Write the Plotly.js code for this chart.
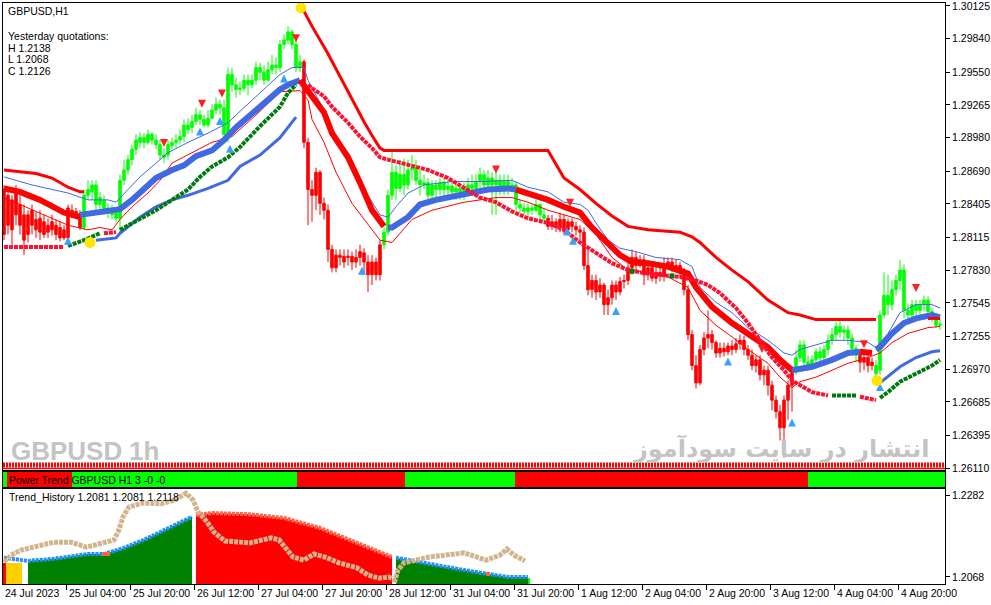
<!DOCTYPE html>
<html><head><meta charset="utf-8">
<script src="https://cdn.plot.ly/plotly-3.0.1.min.js"></script>
<style>html,body{margin:0;padding:0;background:#fff}#c{width:991px;height:605px}</style>
</head><body><div id="c"></div>
<script>
// ---------- candles (H1 bars, index 0..234) ----------
const O=[1.2853,1.2848,1.2844,1.2853,1.2840,1.2831,1.2831,1.2835,1.2827,1.2828,
1.2825,1.2822,1.2825,1.2822,1.2820,1.2818,1.2811,1.2835,1.2834,1.2832,
1.2820,1.2848,1.2851,1.2857,1.2840,1.2844,1.2837,1.2835,1.2833,1.2828,
1.2861,1.2870,1.2879,1.2888,1.2894,1.2898,1.2894,1.2901,1.2896,1.2892,
1.2883,1.2883,1.2891,1.2894,1.2896,1.2899,1.2909,1.2907,1.2912,1.2918,
1.2914,1.2909,1.2915,1.2922,1.2927,1.2924,1.2898,1.2953,1.2944,1.2940,
1.2941,1.2948,1.2944,1.2948,1.2959,1.2955,1.2948,1.2957,1.2961,1.2959,
1.2979,1.2983,1.2990,1.2979,1.2959,1.2964,1.2894,1.2853,1.2848,1.2868,
1.2841,1.2835,1.2801,1.2785,1.2796,1.2795,1.2794,1.2795,1.2790,1.2794,
1.2798,1.2790,1.2779,1.2790,1.2779,1.2805,1.2816,1.2848,1.2868,1.2854,
1.2866,1.2857,1.2870,1.2872,1.2861,1.2857,1.2859,1.2848,1.2857,1.2853,
1.2859,1.2853,1.2856,1.2851,1.2854,1.2848,1.2853,1.2857,1.2854,1.2860,
1.2866,1.2857,1.2863,1.2857,1.2861,1.2853,1.2860,1.2854,1.2857,1.2840,
1.2837,1.2834,1.2837,1.2835,1.2840,1.2831,1.2828,1.2821,1.2825,1.2820,
1.2827,1.2818,1.2825,1.2821,1.2818,1.2816,1.2787,1.2766,1.2774,1.2764,
1.2770,1.2753,1.2759,1.2770,1.2764,1.2773,1.2774,1.2785,1.2794,1.2787,
1.2792,1.2779,1.2785,1.2776,1.2781,1.2778,1.2787,1.2790,1.2785,1.2787,
1.2781,1.2766,1.2727,1.2700,1.2685,1.2714,1.2724,1.2727,1.2720,1.2711,
1.2715,1.2712,1.2717,1.2714,1.2719,1.2722,1.2714,1.2709,1.2700,1.2705,
1.2692,1.2696,1.2683,1.2670,1.2660,1.2646,1.2670,1.2683,1.2696,1.2707,
1.2718,1.2703,1.2700,1.2705,1.2712,1.2707,1.2714,1.2722,1.2727,1.2734,
1.2729,1.2731,1.2724,1.2715,1.2709,1.2703,1.2707,1.2700,1.2693,1.2696,
1.2744,1.2761,1.2753,1.2766,1.2774,1.2783,1.2748,1.2744,1.2753,1.2748,
1.2753,1.2757,1.2747,1.2741,1.2735];
const H=[1.2857,1.2853,1.2848,1.2857,1.2848,1.2840,1.2835,1.2840,1.2834,1.2835,
1.2831,1.2828,1.2831,1.2827,1.2825,1.2822,1.2840,1.2840,1.2837,1.2835,
1.2853,1.2861,1.2861,1.2861,1.2851,1.2848,1.2841,1.2840,1.2837,1.2866,
1.2879,1.2883,1.2892,1.2901,1.2903,1.2902,1.2905,1.2903,1.2901,1.2896,
1.2889,1.2896,1.2898,1.2901,1.2905,1.2914,1.2915,1.2918,1.2924,1.2922,
1.2918,1.2922,1.2927,1.2933,1.2931,1.2931,1.2959,1.2959,1.2950,1.2947,
1.2953,1.2953,1.2953,1.2964,1.2963,1.2961,1.2964,1.2970,1.2968,1.2983,
1.2988,1.2995,1.2992,1.2983,1.2970,1.2966,1.2898,1.2861,1.2872,1.2870,
1.2846,1.2840,1.2805,1.2801,1.2801,1.2801,1.2801,1.2799,1.2801,1.2805,
1.2802,1.2796,1.2796,1.2794,1.2809,1.2820,1.2853,1.2888,1.2874,1.2879,
1.2880,1.2879,1.2883,1.2879,1.2870,1.2866,1.2863,1.2861,1.2861,1.2863,
1.2863,1.2861,1.2860,1.2860,1.2859,1.2859,1.2863,1.2866,1.2866,1.2872,
1.2870,1.2870,1.2868,1.2868,1.2866,1.2866,1.2866,1.2863,1.2860,1.2844,
1.2841,1.2841,1.2840,1.2844,1.2841,1.2837,1.2831,1.2831,1.2828,1.2833,
1.2831,1.2828,1.2828,1.2825,1.2822,1.2820,1.2801,1.2779,1.2779,1.2776,
1.2772,1.2766,1.2774,1.2774,1.2777,1.2779,1.2790,1.2801,1.2799,1.2796,
1.2796,1.2788,1.2789,1.2785,1.2785,1.2794,1.2794,1.2794,1.2792,1.2790,
1.2785,1.2770,1.2731,1.2709,1.2718,1.2729,1.2748,1.2731,1.2722,1.2720,
1.2720,1.2720,1.2722,1.2724,1.2727,1.2726,1.2718,1.2714,1.2709,1.2709,
1.2700,1.2700,1.2687,1.2674,1.2666,1.2674,1.2687,1.2700,1.2714,1.2722,
1.2722,1.2709,1.2709,1.2715,1.2716,1.2718,1.2727,1.2733,1.2738,1.2740,
1.2735,1.2735,1.2728,1.2718,1.2714,1.2712,1.2709,1.2707,1.2705,1.2748,
1.2781,1.2779,1.2774,1.2779,1.2792,1.2788,1.2754,1.2757,1.2757,1.2757,
1.2761,1.2760,1.2750,1.2745,1.2741];
const L=[1.2809,1.2814,1.2805,1.2822,1.2814,1.2796,1.2807,1.2814,1.2811,1.2809,
1.2811,1.2811,1.2813,1.2809,1.2808,1.2809,1.2809,1.2828,1.2828,1.2818,
1.2818,1.2844,1.2844,1.2835,1.2831,1.2831,1.2828,1.2827,1.2825,1.2814,
1.2857,1.2866,1.2874,1.2883,1.2889,1.2889,1.2892,1.2892,1.2888,1.2879,
1.2876,1.2879,1.2888,1.2889,1.2892,1.2894,1.2901,1.2902,1.2909,1.2909,
1.2907,1.2907,1.2914,1.2918,1.2918,1.2896,1.2894,1.2938,1.2933,1.2935,
1.2938,1.2935,1.2941,1.2944,1.2948,1.2944,1.2947,1.2953,1.2953,1.2955,
1.2975,1.2979,1.2975,1.2955,1.2955,1.2889,1.2822,1.2825,1.2835,1.2831,
1.2827,1.2790,1.2781,1.2781,1.2787,1.2785,1.2787,1.2783,1.2785,1.2787,
1.2779,1.2764,1.2770,1.2774,1.2774,1.2801,1.2813,1.2844,1.2844,1.2851,
1.2848,1.2853,1.2861,1.2857,1.2848,1.2853,1.2844,1.2844,1.2846,1.2848,
1.2848,1.2848,1.2846,1.2844,1.2844,1.2844,1.2848,1.2851,1.2848,1.2854,
1.2851,1.2853,1.2831,1.2831,1.2848,1.2848,1.2848,1.2851,1.2835,1.2833,
1.2831,1.2830,1.2831,1.2833,1.2827,1.2825,1.2818,1.2818,1.2816,1.2816,
1.2814,1.2814,1.2816,1.2813,1.2809,1.2783,1.2761,1.2759,1.2757,1.2759,
1.2744,1.2744,1.2753,1.2757,1.2761,1.2767,1.2770,1.2779,1.2783,1.2785,
1.2770,1.2774,1.2773,1.2771,1.2773,1.2773,1.2785,1.2781,1.2781,1.2776,
1.2761,1.2722,1.2696,1.2680,1.2683,1.2709,1.2715,1.2714,1.2707,1.2707,
1.2708,1.2709,1.2709,1.2711,1.2714,1.2709,1.2705,1.2696,1.2694,1.2687,
1.2683,1.2674,1.2661,1.2654,1.2635,1.2620,1.2653,1.2660,1.2692,1.2703,
1.2698,1.2696,1.2698,1.2700,1.2703,1.2703,1.2709,1.2718,1.2722,1.2724,
1.2722,1.2718,1.2712,1.2703,1.2694,1.2696,1.2694,1.2696,1.2689,1.2692,
1.2741,1.2744,1.2748,1.2761,1.2766,1.2741,1.2740,1.2741,1.2744,1.2744,
1.2747,1.2744,1.2738,1.2733,1.2731];
const C=[1.2814,1.2822,1.2818,1.2831,1.2822,1.2809,1.2814,1.2822,1.2818,1.2816,
1.2814,1.2816,1.2818,1.2814,1.2811,1.2811,1.2837,1.2832,1.2831,1.2820,
1.2848,1.2853,1.2857,1.2840,1.2846,1.2835,1.2835,1.2831,1.2828,1.2861,
1.2870,1.2879,1.2888,1.2896,1.2898,1.2894,1.2901,1.2896,1.2892,1.2883,
1.2881,1.2892,1.2894,1.2896,1.2899,1.2909,1.2905,1.2912,1.2918,1.2914,
1.2909,1.2915,1.2922,1.2927,1.2924,1.2901,1.2953,1.2944,1.2940,1.2941,
1.2948,1.2944,1.2948,1.2959,1.2955,1.2948,1.2957,1.2961,1.2959,1.2979,
1.2983,1.2990,1.2979,1.2959,1.2964,1.2894,1.2853,1.2848,1.2868,1.2841,
1.2835,1.2801,1.2785,1.2796,1.2794,1.2790,1.2795,1.2790,1.2794,1.2799,
1.2790,1.2779,1.2790,1.2779,1.2805,1.2816,1.2848,1.2868,1.2854,1.2866,
1.2857,1.2870,1.2872,1.2861,1.2857,1.2859,1.2848,1.2857,1.2853,1.2859,
1.2853,1.2856,1.2851,1.2854,1.2848,1.2854,1.2857,1.2854,1.2860,1.2866,
1.2857,1.2863,1.2857,1.2861,1.2853,1.2860,1.2854,1.2857,1.2840,1.2837,
1.2834,1.2837,1.2835,1.2840,1.2831,1.2828,1.2821,1.2825,1.2820,1.2827,
1.2818,1.2825,1.2821,1.2818,1.2816,1.2787,1.2766,1.2774,1.2764,1.2770,
1.2753,1.2759,1.2770,1.2764,1.2773,1.2774,1.2785,1.2794,1.2787,1.2792,
1.2779,1.2785,1.2776,1.2781,1.2778,1.2787,1.2790,1.2785,1.2787,1.2781,
1.2766,1.2727,1.2700,1.2685,1.2714,1.2724,1.2727,1.2720,1.2711,1.2715,
1.2712,1.2717,1.2714,1.2719,1.2722,1.2714,1.2709,1.2700,1.2705,1.2692,
1.2696,1.2683,1.2670,1.2660,1.2646,1.2670,1.2683,1.2696,1.2707,1.2718,
1.2703,1.2700,1.2705,1.2712,1.2707,1.2714,1.2722,1.2727,1.2734,1.2729,
1.2731,1.2724,1.2715,1.2709,1.2703,1.2707,1.2700,1.2703,1.2700,1.2744,
1.2761,1.2753,1.2766,1.2774,1.2783,1.2748,1.2744,1.2753,1.2748,1.2753,
1.2757,1.2747,1.2741,1.2735,1.2736];
// trend colouring of candles (bar index ranges)
const downRanges=[[0,19],[75,94],[136,197],[214,217]];
const upRanges=[[20,74],[95,135],[198,213],[218,234]];

// ---------- price axis & time labels ----------
const priceTicks=[1.30125,1.29840,1.29550,1.29265,1.28980,1.28690,1.28405,1.28115,1.27830,1.27545,1.27255,1.26970,1.26685,1.26395,1.26110];
const timeLabels=['24 Jul 2023','25 Jul 04:00','25 Jul 20:00','26 Jul 12:00','27 Jul 04:00','27 Jul 20:00','28 Jul 12:00','31 Jul 04:00','31 Jul 20:00','1 Aug 12:00','2 Aug 04:00','2 Aug 20:00','3 Aug 12:00','4 Aug 04:00','4 Aug 20:00'];
const barsPerLabel=16;

// ---------- trend stop line (thick red above / blue below) ----------
const stopRed1X=[0,8,12,16,19,20], stopRed1Y=[1.2870,1.2867,1.2863,1.2855,1.2851,1.2851];
const stopRed2X=[75,77,81,86,90,92,94,95,136,140,144,148,152,156,161,169,172,174,178,182,186,191,196,199,203,218];
const stopRed2Y=[1.3008,1.2995,1.2971,1.2938,1.2912,1.2900,1.2889,1.2887,1.2887,1.2863,1.2853,1.2841,1.2830,1.2821,1.2818,1.2816,1.2812,1.2807,1.2794,1.2783,1.2773,1.2757,1.2746,1.2744,1.2740,1.2740];
const stopRed3X=[231,234], stopRed3Y=[1.2741,1.2741];
const stopBlue1X=[23,28,29,34,38,42,46,51,56,59,64,69,73];
const stopBlue1Y=[1.2809,1.2811,1.2815,1.2829,1.2838,1.2844,1.2848,1.2854,1.2861,1.2873,1.2883,1.2898,1.2916];
const stopBlue2X=[219,224,228,232,234], stopBlue2Y=[1.2685,1.2699,1.2707,1.2712,1.2713];
const flipX=[21.5,74.25,218.25], flipY=[1.2807,1.3011,1.2687];

// ---------- dotted SAR ----------
const sarR1X=[0,15], sarR1Y=[1.2803,1.2803];
const sarG1X=[16,20,24], sarG1Y=[1.2804,1.2809,1.2815];
const sarR2X=[25,28], sarR2Y=[1.2815,1.2816];
const sarG2X=[29,34,38,42,46,49,52,56,59,64,69,71,73];
const sarG2Y=[1.2818,1.2827,1.2835,1.2844,1.2853,1.2864,1.2873,1.2881,1.2890,1.2908,1.2925,1.2937,1.2944];
const sarR3X=[76,77,80,82,86,89,92,94,96,102,106,111,119,123,127,131,136,140,144,148,152,156,161,169,173,176,179,183,186,189,192,195,197,198,202,206];
const sarR3Y=[1.2944,1.2941,1.2934,1.2925,1.2911,1.2899,1.2889,1.2881,1.2879,1.2874,1.2870,1.2863,1.2846,1.2842,1.2834,1.2828,1.2824,1.2818,1.2807,1.2798,1.2789,1.2783,1.2780,1.2777,1.2774,1.2770,1.2763,1.2750,1.2737,1.2722,1.2707,1.2696,1.2687,1.2685,1.2677,1.2674];
const sarG3X=[207,213], sarG3Y=[1.2674,1.2674];
const sarR4X=[214,218], sarR4Y=[1.2673,1.2670];
const sarG4X=[219,221,224,228,232,234], sarG4Y=[1.2672,1.2677,1.2686,1.2693,1.2700,1.2705];
const sarGdotX=[157,167], sarGdotY=[1.2782,1.2778];

// ---------- thick moving-average band ----------
const bandR1X=[0,4,9,13,15,19], bandR1Y=[1.2854,1.2851,1.2844,1.2837,1.2833,1.2829];
const bandB1X=[19,23,29,32,35,38,42,45,48,52,55,58,64,69,71,74];
const bandB1Y=[1.2831,1.2833,1.2836,1.2844,1.2854,1.2863,1.2870,1.2874,1.2882,1.2887,1.2896,1.2907,1.2925,1.2940,1.2944,1.2948];
const bandR2X=[74,77,80,82,86,89,92,95], bandR2Y=[1.2948,1.2934,1.2920,1.2902,1.2881,1.2859,1.2835,1.2821];
const bandB2X=[96,97,101,104,108,112,116,121,126,128], bandB2Y=[1.2820,1.2820,1.2829,1.2840,1.2844,1.2847,1.2850,1.2853,1.2854,1.2853];
const bandR3X=[128,131,136,140,144,147,151,154,157,161,166,171,173,177,182,186,191,194,197];
const bandR3Y=[1.2853,1.2850,1.2844,1.2838,1.2833,1.2820,1.2807,1.2796,1.2790,1.2789,1.2786,1.2780,1.2768,1.2751,1.2737,1.2728,1.2716,1.2705,1.2696];
const bandB3X=[197,202,207,211,214], bandB3Y=[1.2696,1.2699,1.2705,1.2711,1.2712];
const bandR4X=[214,217], bandR4Y=[1.2712,1.2711];
const bandB4X=[218,219,222,225,228,232,234], bandB4Y=[1.2714,1.2716,1.2728,1.2737,1.2741,1.2744,1.2742];

// ---------- thin envelope lines ----------
const envUX=[0,7,16,21,26,28,31,34,37,41,46,51,56,59,69,72,75,76,80,83,87,91,94,96,98,101,105,112,119,127,131,136,140,144,146,148,151,154,158,163,169,172,174,178,182,186,191,195,197,199,203,207,211,216,218,221,224,228,232,234];
const envUY=[1.2864,1.2857,1.2850,1.2844,1.2844,1.2842,1.2853,1.2864,1.2873,1.2885,1.2894,1.2902,1.2911,1.2921,1.2953,1.2959,1.2959,1.2948,1.2922,1.2899,1.2870,1.2847,1.2831,1.2829,1.2838,1.2850,1.2857,1.2860,1.2860,1.2861,1.2855,1.2851,1.2842,1.2840,1.2835,1.2824,1.2809,1.2802,1.2799,1.2794,1.2792,1.2786,1.2768,1.2755,1.2746,1.2733,1.2722,1.2711,1.2709,1.2714,1.2718,1.2722,1.2722,1.2720,1.2716,1.2728,1.2746,1.2753,1.2753,1.2750];
const envLX=[0,4,7,12,16,21,24,27,29,32,36,39,42,47,52,57,64,69,74,76,77,80,83,87,92,94,97,99,102,107,115,123,127,131,136,140,144,148,152,156,161,166,171,174,178,182,186,191,194,197,199,203,207,211,216,219,222,226,231,234];
const envLY=[1.2846,1.2840,1.2835,1.2828,1.2822,1.2818,1.2820,1.2818,1.2827,1.2838,1.2850,1.2861,1.2876,1.2885,1.2894,1.2899,1.2921,1.2938,1.2939,1.2931,1.2914,1.2894,1.2868,1.2841,1.2818,1.2809,1.2807,1.2815,1.2827,1.2835,1.2842,1.2846,1.2846,1.2842,1.2835,1.2831,1.2827,1.2814,1.2794,1.2783,1.2781,1.2777,1.2768,1.2748,1.2735,1.2725,1.2714,1.2702,1.2690,1.2681,1.2686,1.2690,1.2696,1.2702,1.2707,1.2711,1.2720,1.2728,1.2733,1.2734];

// ---------- signal arrows ----------
const arrDnX=[40,49.5,54.5,73,123,141.5,189.5,215,228];
const arrDnY=[1.2890,1.2924,1.2933,1.2981,1.2867,1.2838,1.2711,1.2715,1.2764];
const arrUpX=[16,49,54,56.5,70,89.5,140.75,142.25,153,181,197,219];
const arrUpY=[1.2812,1.2907,1.2916,1.2892,1.2953,1.2786,1.2820,1.2812,1.2751,1.2707,1.2654,1.2685];

// ---------- Power Trend strip ----------
const stripStart=[-0.25,0.75,17,73.25,100.25,127.75,201];
const stripEnd=[0.75,17,73.25,100.25,127.75,201,235.25];
const stripState=['up','dn','up','dn','up','dn','up'];

// ---------- Trend_History sub-window ----------
const thTicks=[1.2282,1.2068];
const thGreen1X=[0,6,12,21,25,30,35,39,44,47];
const thGreen1Y=[1.2118,1.2110,1.2115,1.2128,1.2128,1.2144,1.2165,1.2185,1.2209,1.2225];
const thRedX=[48,52,61,70,79,88,94,97];
const thRedY=[1.2230,1.2235,1.2232,1.2222,1.2196,1.2157,1.2131,1.2120];
const thGreen2X=[98,106,115,121,126,131];
const thGreen2Y=[1.2118,1.2102,1.2086,1.2076,1.2068,1.2068];
const thLeftX=[0,1,2,3,4], thLeftY=[1.2105,1.2105,1.2105,1.2105,1.2105];
const thLeftState=['dn','flat','flat','flat','flat'];
const thLimeX=[121,122,127,128,129,130,131], thLimeY=[1.2066,1.2066,1.2066,1.2066,1.2066,1.2066,1.2066];
const thRedDotX=[25,26,121], thRedDotY=[1.2128,1.2128,1.2076];
const tanX=[0,1.75,4.25,8,12.5,16.75,20.5,23,25.75,27.5,28.5,29.75,31.25,34.75,39.25,42.75,45.5,47.25,48.5,50.75,52.5,55.25,61.5,66.75,68.75,70.5,72.25,75,77.5,80.25,83.75,88.25,91,93.75,96.25,97.75,98.5,100,106.25,115,120.5,124,125.75,127.5,130.25];
const tanY=[1.2107,1.2125,1.2138,1.2149,1.2159,1.2159,1.2146,1.2152,1.2159,1.2165,1.2185,1.2225,1.2251,1.2261,1.2259,1.2269,1.2287,1.2269,1.2238,1.2212,1.2185,1.2162,1.2157,1.2170,1.2165,1.2144,1.2120,1.2112,1.2128,1.2120,1.2105,1.2092,1.2073,1.2065,1.2068,1.2060,1.2086,1.2105,1.2120,1.2131,1.2112,1.2125,1.2141,1.2125,1.2110];

// ================= layout helpers =================
const W=991, HGT=605, ML=3, MR=46, MT=3, MB=21;
const PW=W-ML-MR, PH=HGT-MT-MB;
const PX=x=>(x-ML)/PW;
const PY=y=>(HGT-MB-y)/PH;
const FONT='Liberation Sans, Arial, sans-serif';
const RED='#ff0000', LIME='#00ff00', ROYAL='#4169e1';

function pick(ranges){
  const x=[],o=[],h=[],l=[],c=[];
  ranges.forEach(([a,b])=>{for(let i=a;i<=b;i++){x.push(i);o.push(O[i]);h.push(H[i]);l.push(L[i]);c.push(C[i]);}});
  return {x,o,h,l,c};
}
function candles(ranges,col){
  const d=pick(ranges);
  return {type:'candlestick',x:d.x,open:d.o,high:d.h,low:d.l,close:d.c,xaxis:'x',yaxis:'y',
    increasing:{line:{color:col,width:1},fillcolor:col},decreasing:{line:{color:col,width:1},fillcolor:col},
    whiskerwidth:0,hoverinfo:'skip',showlegend:false};
}
function ln(x,y,color,width,dash,ax,ay){
  return {type:'scatter',mode:'lines',x,y,line:{color,width,dash:dash||'solid'},xaxis:ax||'x',yaxis:ay||'y',hoverinfo:'skip',showlegend:false};
}
const DOTS='4px,1px';
const traces=[
  candles(downRanges,RED), candles(upRanges,LIME),
  ln(envUX,envUY,ROYAL,1), ln(envLX,envLY,RED,1),
  ln(bandR1X,bandR1Y,RED,6), ln(bandB1X,bandB1Y,ROYAL,6), ln(bandR2X,bandR2Y,RED,6),
  ln(bandB2X,bandB2Y,ROYAL,6), ln(bandR3X,bandR3Y,RED,6), ln(bandB3X,bandB3Y,ROYAL,6),
  ln(bandR4X,bandR4Y,RED,6), ln(bandB4X,bandB4Y,ROYAL,6),
  ln(stopRed1X,stopRed1Y,RED,3), ln(stopRed2X,stopRed2Y,RED,3), ln(stopRed3X,stopRed3Y,RED,3),
  ln(stopBlue1X,stopBlue1Y,ROYAL,3), ln(stopBlue2X,stopBlue2Y,ROYAL,3),
  ln(sarR1X,sarR1Y,'#ff1030',4,DOTS), ln(sarG1X,sarG1Y,'#007a10',4,DOTS), ln(sarR2X,sarR2Y,'#ff1030',4,DOTS),
  ln(sarG2X,sarG2Y,'#007a10',4,DOTS), ln(sarR3X,sarR3Y,'#ff1030',4,DOTS), ln(sarG3X,sarG3Y,'#007a10',4,DOTS),
  ln(sarR4X,sarR4Y,'#ff1030',4,DOTS), ln(sarG4X,sarG4Y,'#007a10',4,DOTS),
  {type:'scatter',mode:'markers',x:sarGdotX,y:sarGdotY,marker:{color:'#007a10',size:5,symbol:'square'},hoverinfo:'skip',showlegend:false},
  {type:'scatter',mode:'markers',x:arrDnX,y:arrDnY,marker:{color:'#ff2020',size:8,symbol:'arrow-down'},hoverinfo:'skip',showlegend:false},
  {type:'scatter',mode:'markers',x:arrUpX,y:arrUpY,marker:{color:'#3aa0ff',size:8,symbol:'arrow-up'},hoverinfo:'skip',showlegend:false},
  {type:'scatter',mode:'markers',x:flipX,y:flipY,marker:{color:'#ffe600',size:11,symbol:'circle'},hoverinfo:'skip',showlegend:false}
];
// strip
stripStart.forEach((a,k)=>{
  const b=stripEnd[k];
  traces.push({type:'scatter',mode:'lines',x:[a,b,b,a,a],y:[0,0,1,1,0],fill:'toself',
    fillcolor:stripState[k]==='up'?LIME:RED,line:{width:0},xaxis:'x2',yaxis:'y2',hoverinfo:'skip',showlegend:false});
});
// Trend_History
const GREEN='#008000';
traces.push({type:'bar',x:thLeftX,y:thLeftY,marker:{color:thLeftState.map(s=>s==='dn'?RED:'#ffd000'),line:{width:0}},width:1,xaxis:'x3',yaxis:'y3',hoverinfo:'skip',showlegend:false});
traces.push({type:'scatter',mode:'lines',x:thGreen1X.slice(1),y:thGreen1Y.slice(1),fill:'tozeroy',fillcolor:GREEN,line:{width:0},xaxis:'x3',yaxis:'y3',hoverinfo:'skip',showlegend:false});
traces.push({type:'scatter',mode:'lines',x:thRedX,y:thRedY,fill:'tozeroy',fillcolor:RED,line:{width:0},xaxis:'x3',yaxis:'y3',hoverinfo:'skip',showlegend:false});
traces.push({type:'scatter',mode:'lines',x:thGreen2X,y:thGreen2Y,fill:'tozeroy',fillcolor:GREEN,line:{width:0},xaxis:'x3',yaxis:'y3',hoverinfo:'skip',showlegend:false});
traces.push({type:'bar',x:thLimeX,y:thLimeY,marker:{color:LIME,line:{width:0}},width:1,xaxis:'x3',yaxis:'y3',hoverinfo:'skip',showlegend:false});
traces.push(ln(thGreen1X,thGreen1Y,'#1e90ff',4,'3px,1px','x3','y3'));
traces.push(ln(thRedX,thRedY,'#ff6347',4,'3px,1px','x3','y3'));
traces.push(ln(thGreen2X,thGreen2Y,'#1e90ff',4,'3px,1px','x3','y3'));
traces.push({type:'scatter',mode:'markers',x:thRedDotX,y:thRedDotY,marker:{color:'#ff6347',size:4,symbol:'square'},xaxis:'x3',yaxis:'y3',hoverinfo:'skip',showlegend:false});
traces.push(ln(tanX,tanY,'#d2b48c',5,'4px,1px','x3','y3'));

const XR=[-0.25,235.25];
const axBase={showgrid:false,zeroline:false,showline:true,mirror:true,linecolor:'#000',linewidth:1,fixedrange:true};
const tickIdx=timeLabels.map((t,k)=>k*barsPerLabel-0.5).filter(v=>v>XR[0]);
const annFont={family:FONT,size:10.5,color:'#000'};
const annotations=[
  {text:'GBPUSD,H1',x:PX(6),y:PY(11)},
  {text:'Yesterday quotations:',x:PX(6),y:PY(36)},
  {text:'H 1.2138',x:PX(6),y:PY(48)},
  {text:'L 1.2068',x:PX(6),y:PY(59)},
  {text:'C 1.2126',x:PX(6),y:PY(71)},
  {text:'Power Trend GBPUSD H1 3 -0 -0',x:PX(7),y:PY(480)},
  {text:'Trend_History 1.2081 1.2081 1.2118',x:PX(7),y:PY(497)}
].map(a=>Object.assign({xref:'paper',yref:'paper',xanchor:'left',yanchor:'middle',showarrow:false,font:annFont},a));
timeLabels.forEach((t,k)=>{
  annotations.push({text:t,xref:'paper',yref:'paper',x:PX(4+4*(k*barsPerLabel-0.5)+1),y:PY(593),xanchor:'left',yanchor:'middle',showarrow:false,font:annFont});
});
annotations.push({text:'<b>GBPUSD</b>',xref:'paper',yref:'paper',x:PX(9),y:PY(451),xanchor:'left',yanchor:'middle',showarrow:false,font:{family:'Liberation Sans Narrow, Liberation Sans, Arial',size:26,color:'#c4c4c4'}});
annotations.push({text:'<b>1h</b>',xref:'paper',yref:'paper',x:PX(127),y:PY(451),xanchor:'left',yanchor:'middle',showarrow:false,font:{family:'Liberation Sans Narrow, Liberation Sans, Arial',size:26,color:'#c4c4c4'}});
annotations.push({text:'<b>انتشار در سایت سودآموز</b>',xref:'paper',yref:'paper',x:PX(931),y:PY(448),xanchor:'right',yanchor:'middle',showarrow:false,font:{family:'DejaVu Sans, Noto Sans',size:24,color:'#c4c4c4'}});

const layout={
  width:W,height:HGT,margin:{l:ML,r:MR,t:MT,b:MB,pad:0},
  paper_bgcolor:'#fff',plot_bgcolor:'#fff',showlegend:false,hovermode:false,
  boxgap:0.1,bargap:0,barmode:'overlay',dragmode:false,
  font:{family:FONT,size:10.5,color:'#000'},
  xaxis:Object.assign({},axBase,{domain:[0,1],anchor:'y',range:XR,showticklabels:false,ticks:'',rangeslider:{visible:false}}),
  yaxis:Object.assign({},axBase,{domain:[PY(470),PY(3)],anchor:'x',side:'right',range:[1.26093,1.30151],ticklabeloverflow:'allow',
    tickmode:'array',tickvals:priceTicks,ticktext:priceTicks.map(v=>v.toFixed(5)),ticks:'outside',ticklen:4,tickcolor:'#000',tickfont:{family:FONT,size:10.5,color:'#000'}}),
  xaxis2:Object.assign({},axBase,{domain:[0,1],anchor:'y2',matches:'x',showticklabels:false,ticks:'',rangeslider:{visible:false}}),
  yaxis2:Object.assign({},axBase,{domain:[PY(487),PY(472)],anchor:'x2',range:[0,1],showticklabels:false,ticks:''}),
  xaxis3:Object.assign({},axBase,{domain:[0,1],anchor:'y3',matches:'x',showticklabels:false,tickmode:'array',tickvals:tickIdx,ticks:'outside',ticklen:5,tickcolor:'#000',rangeslider:{visible:false}}),
  yaxis3:Object.assign({},axBase,{domain:[0,PY(489)],anchor:'x3',side:'right',range:[1.20497,1.22977],ticklabeloverflow:'allow',
    tickmode:'array',tickvals:thTicks,ticktext:thTicks.map(v=>v.toFixed(4)),ticks:'outside',ticklen:4,tickcolor:'#000',tickfont:{family:FONT,size:10.5,color:'#000'}}),
  shapes:[
    {type:'line',xref:'paper',yref:'paper',x0:0,x1:1,y0:PY(465),y1:PY(465),line:{color:RED,width:5,dash:'2px,1px'}},
    {type:'line',xref:'paper',yref:'paper',x0:0,x1:1,y0:PY(468.5),y1:PY(468.5),line:{color:RED,width:1.5}}
  ],
  annotations
};
Plotly.newPlot('c',traces,layout,{staticPlot:true,displayModeBar:false});
</script></body></html>
